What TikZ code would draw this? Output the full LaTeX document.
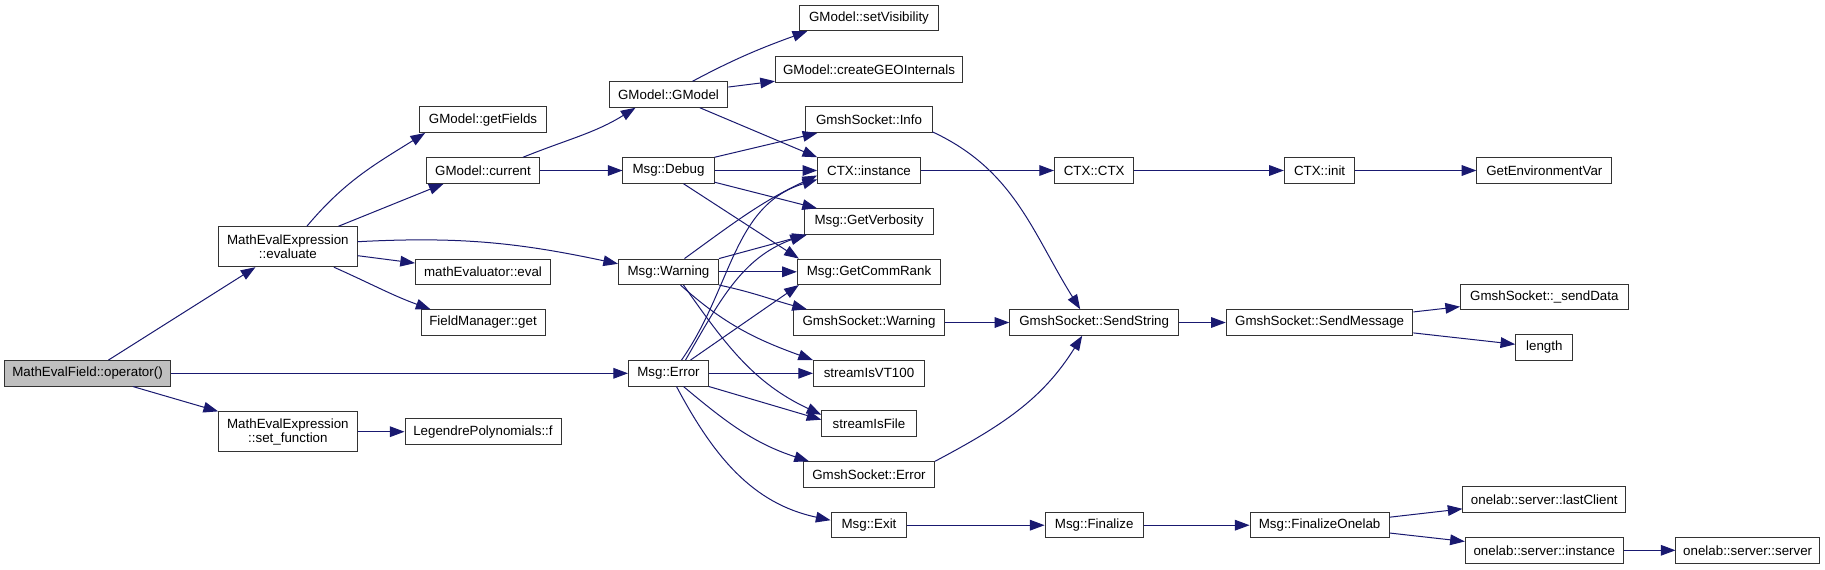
\documentclass[tikz,border=0pt]{standalone}
\usepackage{fontspec}
\setmainfont{Liberation Sans}
\usetikzlibrary{arrows.meta,calc}
\definecolor{EdgeBlue}{RGB}{25,25,112}
\definecolor{RootGray}{RGB}{191,191,191}
\tikzset{
  fnbox/.style={draw=black!80,line width=0.75pt,fill=white,rectangle,
    inner sep=1pt,minimum height=19.1pt,align=center,
    font=\fontsize{10}{10.5}\selectfont},
  rootbox/.style={fnbox,fill=RootGray},
  twoline/.style={minimum height=30pt},
  callarrow/.style={-{Triangle[length=11pt,width=8pt]},
    line width=0.75pt,draw=EdgeBlue},
}

\begin{document}
\begin{tikzpicture}[x=0.75pt,y=-0.75pt]
  \fill[white] (0,0) rectangle (1825,569);
  \useasboundingbox (0,0) rectangle (1825,569);

  \node[rootbox,minimum width=124.5pt] (opcall) at (87.5,373.3) {MathEvalField::operator()};
  \node[fnbox,twoline,minimum width=103.9pt] (evaluate) at (287.9,246.7) {MathEvalExpression\\::evaluate};
  \node[fnbox,twoline,minimum width=103.9pt] (setfunc) at (287.9,431.7) {MathEvalExpression\\::set\_function};

  \node[fnbox,minimum width=95pt] (getfields) at (483,119.7) {GModel::getFields};
  \node[fnbox,minimum width=85.3pt] (current) at (483,170.5) {GModel::current};
  \node[fnbox,minimum width=101.3pt] (matheval) at (483,271.8) {mathEvaluator::eval};
  \node[fnbox,minimum width=93pt] (fieldget) at (483,322.5) {FieldManager::get};
  \node[fnbox,minimum width=117pt] (legendre) at (483,431.7) {LegendrePolynomials::f};

  \node[fnbox,minimum width=89pt] (gmodel) at (668.5,94.5) {GModel::GModel};
  \node[fnbox,minimum width=68.3pt] (debug) at (668.5,170.5) {Msg::Debug};
  \node[fnbox,minimum width=75pt] (warning) at (668.5,271.8) {Msg::Warning};
  \node[fnbox,minimum width=60pt] (error) at (668.5,373.3) {Msg::Error};

  \node[fnbox,minimum width=103.9pt] (setvis) at (869,18) {GModel::setVisibility};
  \node[fnbox,minimum width=140.3pt] (creategeo) at (869,69.5) {GModel::createGEOInternals};
  \node[fnbox,minimum width=94.7pt] (sockinfo) at (869,119.7) {GmshSocket::Info};
  \node[fnbox,minimum width=77pt] (ctxinst) at (869,170.5) {CTX::instance};
  \node[fnbox,minimum width=96.8pt] (verbosity) at (869,221.5) {Msg::GetVerbosity};
  \node[fnbox,minimum width=107.5pt] (commrank) at (869,271.8) {Msg::GetCommRank};
  \node[fnbox,minimum width=113.3pt] (sockwarn) at (869,322.5) {GmshSocket::Warning};
  \node[fnbox,minimum width=83.3pt] (vt100) at (869,373.3) {streamIsVT100};
  \node[fnbox,minimum width=70.7pt] (isfile) at (869,423.7) {streamIsFile};
  \node[fnbox,minimum width=98.3pt] (sockerror) at (869,474.5) {GmshSocket::Error};
  \node[fnbox,minimum width=56.9pt] (msgexit) at (869,525.2) {Msg::Exit};

  \node[fnbox,minimum width=59.6pt] (ctxctor) at (1094.2,170.5) {CTX::CTX};
  \node[fnbox,minimum width=126.6pt] (sendstring) at (1094.2,322.5) {GmshSocket::SendString};
  \node[fnbox,minimum width=73.7pt] (finalize) at (1094.2,525.2) {Msg::Finalize};

  \node[fnbox,minimum width=52.9pt] (ctxinit) at (1319.6,170.5) {CTX::init};
  \node[fnbox,minimum width=140pt] (sendmessage) at (1319.6,322.5) {GmshSocket::SendMessage};
  \node[fnbox,minimum width=104.3pt] (finonelab) at (1319.6,525.2) {Msg::FinalizeOnelab};

  \node[fnbox,minimum width=101.1pt] (getenv) at (1544.3,170.5) {GetEnvironmentVar};
  \node[fnbox,minimum width=125.6pt] (senddata) at (1544.3,297.2) {GmshSocket::\_sendData};
  \node[fnbox,minimum width=42.9pt] (lengthfn) at (1544.3,347.5) {length};
  \node[fnbox,minimum width=122pt] (lastclient) at (1544.3,499.5) {onelab::server::lastClient};
  \node[fnbox,minimum width=118.5pt] (srvinstance) at (1544.3,550.3) {onelab::server::instance};
  \node[fnbox,minimum width=107.6pt] (srvserver) at (1747.7,550.3) {onelab::server::server};

  \draw[callarrow] (opcall) -- (evaluate);
  \draw[callarrow] (opcall) -- (error);
  \draw[callarrow] (opcall) -- (setfunc);
  \draw[callarrow] ($(evaluate.north)+(19,0)$) to[out=50,in=212] ($(getfields.south west)+(6,0)$);
  \draw[callarrow] (evaluate) -- ($(current.south west)+(18,0)$);
  \draw[callarrow] ($(evaluate.east)+(0,-5)$) to[out=3,in=168] ($(warning.west)+(0,-8)$);
  \draw[callarrow] (evaluate) -- (matheval);
  \draw[callarrow] (evaluate) to[out=-24,in=160] ($(fieldget.north west)+(10,0)$);
  \draw[callarrow] (setfunc) -- (legendre);
  \draw[callarrow] ($(current.north)+(40,0)$) to[out=22,in=212] ($(gmodel.south)+(-33,0)$);
  \draw[callarrow] (current) -- (debug);
  \draw[callarrow] ($(gmodel.north)+(24,0)$) to[out=28,in=200] ($(setvis.south west)+(8,0)$);
  \draw[callarrow] (gmodel) -- (creategeo);
  \draw[callarrow] (gmodel) -- (ctxinst.north west);
  \draw[callarrow] (debug.north east) -- ($(sockinfo.south west)+(12,0)$);
  \draw[callarrow] (debug) -- (ctxinst);
  \draw[callarrow] (debug) -- (verbosity);
  \draw[callarrow] ($(debug.south)+(15,0)$) -- ($(commrank.north west)+(2,0)$);
  \draw[callarrow] ($(warning.north)+(16,0)$) to[out=36,in=205] ($(ctxinst.west)+(0,5)$);
  \draw[callarrow] (warning.north east) -- ($(verbosity.south west)+(3,0)$);
  \draw[callarrow] (warning) -- (commrank);
  \draw[callarrow] (warning.south east) to[out=-12,in=165] ($(sockwarn.north west)+(14,0)$);
  \draw[callarrow] ($(warning.south)+(12,0)$) to[out=-42,in=160] (vt100.north west);
  \draw[callarrow] ($(warning.south)+(15,0)$) to[out=-55,in=155] ($(isfile.west)+(0,-9)$);
  \draw[callarrow] ($(error.north)+(13,0)$) to[out=55,in=197] ($(ctxinst.west)+(0,9)$);
  \draw[callarrow] ($(error.north)+(17,0)$) to[out=60,in=200] ($(verbosity.south west)+(1,0)$);
  \draw[callarrow] ($(error.north)+(22,0)$) -- ($(commrank.south west)+(2,0)$);
  \draw[callarrow] (error) -- (vt100);
  \draw[callarrow] (error.south east) -- ($(isfile.west)+(0,-4)$);
  \draw[callarrow] ($(error.south)+(15,0)$) to[out=-40,in=162] ($(sockerror.north west)+(6,0)$);
  \draw[callarrow] ($(error.south)+(8,0)$) to[out=-62,in=168] ($(msgexit.west)+(0,-5)$);
  \draw[callarrow] ($(sockinfo.south east)+(0,-1)$) to[out=-25,in=122] ($(sendstring.north)+(-14,0)$);
  \draw[callarrow] (ctxinst) -- (ctxctor);
  \draw[callarrow] (ctxctor) -- (ctxinit);
  \draw[callarrow] (ctxinit) -- (getenv);
  \draw[callarrow] (sockwarn) -- (sendstring);
  \draw[callarrow] (sockerror.north east) to[out=28,in=238] ($(sendstring.south)+(-12,0)$);
  \draw[callarrow] (sendstring) -- (sendmessage);
  \draw[callarrow] (sendmessage) -- (senddata);
  \draw[callarrow] (sendmessage) -- (lengthfn);
  \draw[callarrow] (msgexit) -- (finalize);
  \draw[callarrow] (finalize) -- (finonelab);
  \draw[callarrow] (finonelab) -- (lastclient);
  \draw[callarrow] (finonelab) -- (srvinstance);
  \draw[callarrow] (srvinstance) -- (srvserver);
\end{tikzpicture}
\end{document}
